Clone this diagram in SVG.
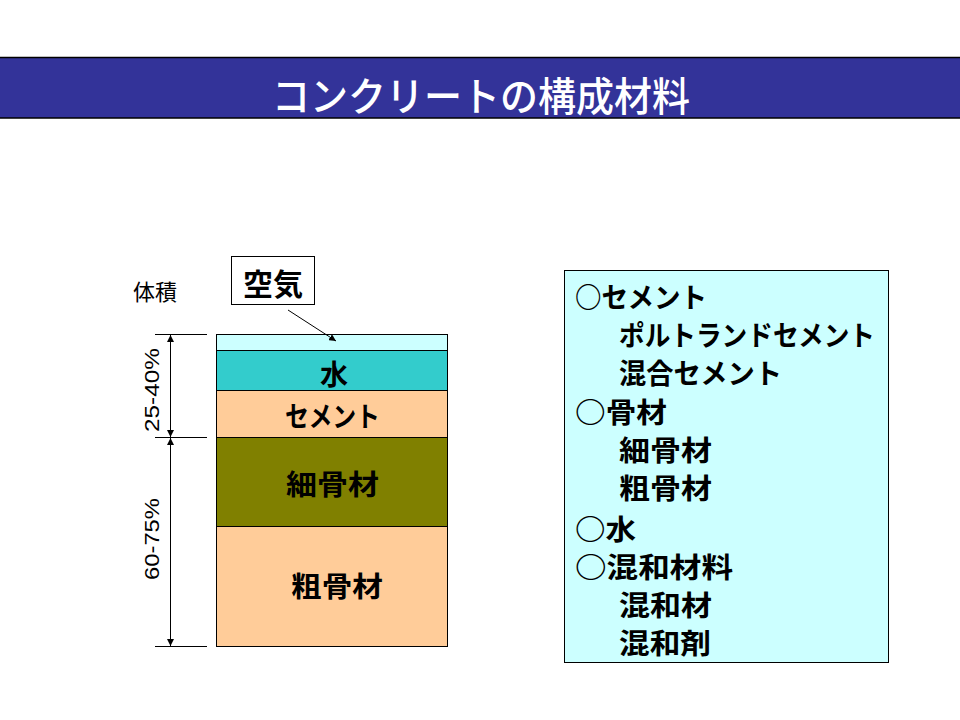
<svg xmlns="http://www.w3.org/2000/svg" width="960" height="720" viewBox="0 0 960 720">
  <defs>
    <marker id="arr" viewBox="0 0 10 10" refX="10" refY="5" markerWidth="7" markerHeight="7" markerUnits="userSpaceOnUse" orient="auto-start-reverse">
      <path d="M0,0 L10,5 L0,10 z" fill="#000"/>
    </marker>
    <marker id="dim" viewBox="0 0 10 10" refX="10" refY="5" markerWidth="9" markerHeight="7" markerUnits="userSpaceOnUse" orient="auto-start-reverse">
      <path d="M0,0 L10,5 L0,10 z" fill="#000"/>
    </marker>
  </defs>
  <style>
    .jp { font-family: "Noto Sans CJK JP", "Noto Sans CJK SC", sans-serif; }
    .b { font-weight: bold; font-size: 28px; fill: #000; }
    .lbl { font-family: "Liberation Sans", Arial, sans-serif; font-size: 20px; fill: #000; }
    .layer { stroke: #000; stroke-width: 1; }
    .thin { stroke: #000; stroke-width: 1; fill: none; }
  </style>
  <rect x="0" y="0" width="960" height="720" fill="#fff"/>

  <g id="title">
    <rect x="0" y="57" width="960" height="61" fill="#333399"/>
    <line x1="0" y1="57.5" x2="960" y2="57.5" stroke="#000" stroke-width="1.5"/>
    <line x1="0" y1="118" x2="960" y2="118" stroke="#000" stroke-width="1.5"/>
    <text class="jp" x="272" y="111" font-size="40" font-weight="500" fill="#fff" textLength="418" lengthAdjust="spacingAndGlyphs">コンクリートの構成材料</text>
  </g>

  <g id="volume-label">
    <text class="jp" x="133" y="300" font-size="22" fill="#000">体積</text>
  </g>

  <g id="air-label">
    <rect x="231.5" y="256.5" width="83" height="48" fill="#fff" stroke="#000" stroke-width="1"/>
    <text class="jp" x="273" y="295" font-size="30" font-weight="bold" text-anchor="middle">空気</text>
  </g>

  <g id="stack">
    <g id="air"><rect class="layer" x="216.5" y="334.5" width="231" height="16" fill="#CCFFFF"/></g>
    <g id="water">
      <rect class="layer" x="216.5" y="350.5" width="231" height="40" fill="#33CCCC"/>
      <text class="jp b" x="334" y="385" text-anchor="middle">水</text>
    </g>
    <g id="cement">
      <rect class="layer" x="216.5" y="390.5" width="231" height="47" fill="#FFCC99"/>
      <text class="jp b" x="285" y="427" textLength="95" lengthAdjust="spacingAndGlyphs">セメント</text>
    </g>
    <g id="fine-aggregate">
      <rect class="layer" x="216.5" y="437.5" width="231" height="89" fill="#808000"/>
      <text class="jp b" x="286" y="495" textLength="93" lengthAdjust="spacingAndGlyphs">細骨材</text>
    </g>
    <g id="coarse-aggregate">
      <rect class="layer" x="216.5" y="526.5" width="231" height="120" fill="#FFCC99"/>
      <text class="jp b" x="291" y="597" textLength="92" lengthAdjust="spacingAndGlyphs">粗骨材</text>
    </g>
  </g>

  <g id="connectors">
    <line class="thin" x1="288" y1="310" x2="336" y2="341" marker-end="url(#arr)"/>
    <line class="thin" x1="155" y1="334.5" x2="207" y2="334.5"/>
    <line class="thin" x1="155" y1="437.5" x2="207" y2="437.5"/>
    <line class="thin" x1="155" y1="646.5" x2="207" y2="646.5"/>
    <line class="thin" x1="170.5" y1="335" x2="170.5" y2="437" marker-start="url(#dim)" marker-end="url(#dim)"/>
    <line class="thin" x1="170.5" y1="438" x2="170.5" y2="646" marker-start="url(#dim)" marker-end="url(#dim)"/>
  </g>

  <g id="dimension-labels">
    <text class="lbl" transform="translate(159,432) rotate(-90)" textLength="84" lengthAdjust="spacingAndGlyphs">25-40%</text>
    <text class="lbl" transform="translate(159,580) rotate(-90)" textLength="82" lengthAdjust="spacingAndGlyphs">60-75%</text>
  </g>

  <g id="materials-list">
    <rect x="564.5" y="270.5" width="324" height="392" fill="#CCFFFF" stroke="#000" stroke-width="1"/>
    <text class="jp b" x="575" y="308" textLength="132" lengthAdjust="spacingAndGlyphs">○セメント</text>
    <text class="jp b" x="619" y="346" textLength="256" lengthAdjust="spacingAndGlyphs">ポルトランドセメント</text>
    <text class="jp b" x="619" y="384" textLength="163" lengthAdjust="spacingAndGlyphs">混合セメント</text>
    <text class="jp b" x="575" y="423" textLength="92" lengthAdjust="spacingAndGlyphs">○骨材</text>
    <text class="jp b" x="619" y="461" textLength="93" lengthAdjust="spacingAndGlyphs">細骨材</text>
    <text class="jp b" x="619" y="499" textLength="93" lengthAdjust="spacingAndGlyphs">粗骨材</text>
    <text class="jp b" x="575" y="540" textLength="61" lengthAdjust="spacingAndGlyphs">○水</text>
    <text class="jp b" x="575" y="578" textLength="158" lengthAdjust="spacingAndGlyphs">○混和材料</text>
    <text class="jp b" x="619" y="616" textLength="93" lengthAdjust="spacingAndGlyphs">混和材</text>
    <text class="jp b" x="619" y="654" textLength="92" lengthAdjust="spacingAndGlyphs">混和剤</text>
  </g>
</svg>
